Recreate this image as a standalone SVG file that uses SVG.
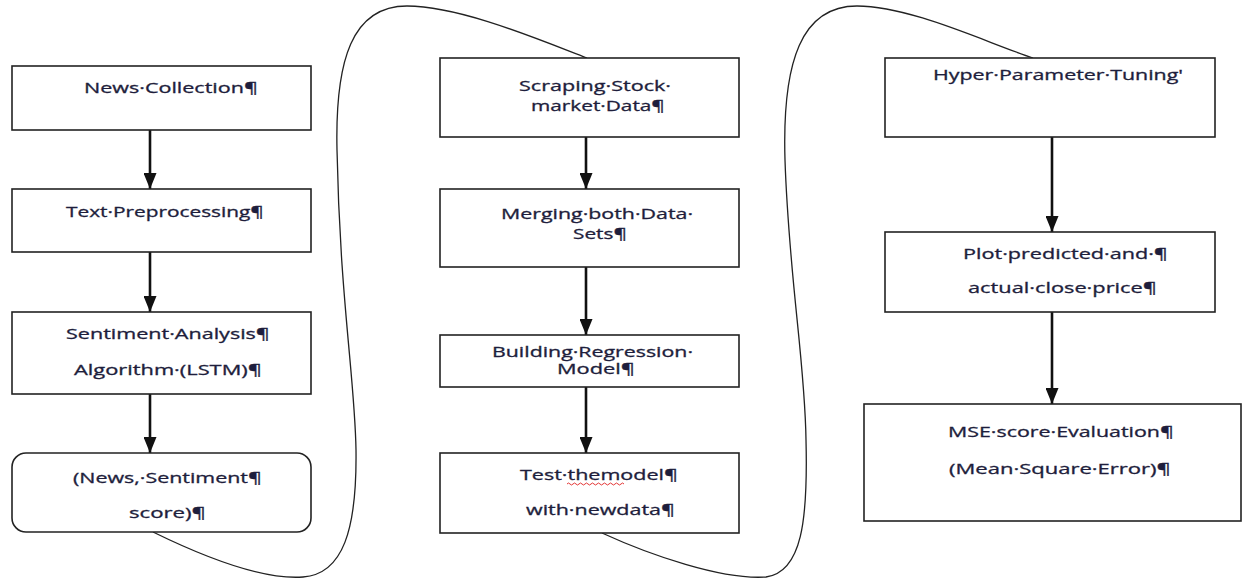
<svg xmlns="http://www.w3.org/2000/svg" width="1242" height="580" viewBox="0 0 1242 580">
<style>
.box{fill:#fff;stroke:#222;stroke-width:1.6}
.t{font-family:"Open Sans","Liberation Sans",sans-serif;font-size:14.5px;fill:#1e1e3c;stroke:#1e1e3c;stroke-width:0.3}
.arr{stroke:#111;stroke-width:2.6;fill:none}
.curve{stroke:#222;stroke-width:1.3;fill:none}
</style>
<defs>
<marker id="tri" markerUnits="userSpaceOnUse" markerWidth="16" markerHeight="13" refX="16" refY="6.5" orient="auto" viewBox="0 0 16 13">
<path d="M0,0 L16,6.5 L0,13 Z" fill="#111"/>
</marker>
</defs>
<rect width="1242" height="580" fill="#fff"/>

<g id="connectors">
<path class="arr" d="M150,130 L150,189" marker-end="url(#tri)"/>
<path class="arr" d="M150,252 L150,312" marker-end="url(#tri)"/>
<path class="arr" d="M150,394 L150,453" marker-end="url(#tri)"/>
<path class="arr" d="M586,137 L586,189" marker-end="url(#tri)"/>
<path class="arr" d="M586,267 L586,335" marker-end="url(#tri)"/>
<path class="arr" d="M586,387 L586,453" marker-end="url(#tri)"/>
<path class="arr" d="M1052,137 L1052,232" marker-end="url(#tri)"/>
<path class="arr" d="M1052,312 L1052,404" marker-end="url(#tri)"/>
<path class="curve" d="M153,532 C200,555 262,580 303,577 C343,574 357,530 356,450 C355,380 340,300 337,150 C335,60 352,6 407,6 C460,6 540,40 587,58"/>
<path class="curve" d="M602,533 C650,555 722,580 766,577 C802,572 808,520 806,440 C805,360 789,280 785,160 C782,60 802,6 857,6 C910,6 985,42 1033,58"/>
</g>

<g id="n1"><rect class="box" x="12" y="66" width="299" height="64"/>
<text class="t" x="84" y="93" textLength="174" lengthAdjust="spacingAndGlyphs">News·Collection¶</text></g>
<g id="n2"><rect class="box" x="12" y="189" width="299" height="63"/>
<text class="t" x="66" y="217" textLength="198" lengthAdjust="spacingAndGlyphs">Text·Preprocessing¶</text></g>
<g id="n3"><rect class="box" x="12" y="312" width="299" height="82"/>
<text class="t" x="66" y="339" textLength="204" lengthAdjust="spacingAndGlyphs">Sentiment·Analysis¶</text>
<text class="t" x="74" y="375" textLength="188" lengthAdjust="spacingAndGlyphs">Algorithm·(LSTM)¶</text></g>
<g id="n4"><rect class="box" x="12" y="453" width="299" height="79" rx="14"/>
<text class="t" x="73" y="483" textLength="189" lengthAdjust="spacingAndGlyphs">(News,·Sentiment¶</text>
<text class="t" x="129" y="518" textLength="77" lengthAdjust="spacingAndGlyphs">score)¶</text></g>

<g id="n5"><rect class="box" x="440" y="58" width="299" height="79"/>
<text class="t" x="519" y="91" textLength="152" lengthAdjust="spacingAndGlyphs">Scraping·Stock·</text>
<text class="t" x="531" y="111" textLength="134" lengthAdjust="spacingAndGlyphs">market·Data¶</text></g>
<g id="n6"><rect class="box" x="440" y="189" width="299" height="78"/>
<text class="t" x="501" y="219" textLength="192" lengthAdjust="spacingAndGlyphs">Merging·both·Data·</text>
<text class="t" x="573" y="239" textLength="54" lengthAdjust="spacingAndGlyphs">Sets¶</text></g>
<g id="n7"><rect class="box" x="440" y="335" width="299" height="52"/>
<text class="t" x="492" y="357" textLength="201" lengthAdjust="spacingAndGlyphs">Building·Regression·</text>
<text class="t" x="557" y="374" textLength="78" lengthAdjust="spacingAndGlyphs">Model¶</text></g>
<g id="n8"><rect class="box" x="440" y="453" width="299" height="80"/>
<text class="t" x="520" y="480" textLength="158" lengthAdjust="spacingAndGlyphs">Test·themodel¶</text>
<path d="M567,484 q1.5,-2 3,0 t3,0 t3,0 t3,0 t3,0 t3,0 t3,0 t3,0 t3,0 t3,0 t3,0 t3,0 t3,0 t3,0 t3,0 t3,0 t3,0 t3,0 t3,0" fill="none" stroke="#e02020" stroke-width="0.9"/>
<text class="t" x="526" y="515" textLength="149" lengthAdjust="spacingAndGlyphs">with·newdata¶</text></g>

<g id="n9"><rect class="box" x="885" y="58" width="330" height="79"/>
<text class="t" x="933" y="80" textLength="250" lengthAdjust="spacingAndGlyphs">Hyper·Parameter·Tuning'</text></g>
<g id="n10"><rect class="box" x="885" y="232" width="330" height="80"/>
<text class="t" x="963" y="259" textLength="205" lengthAdjust="spacingAndGlyphs">Plot·predicted·and·¶</text>
<text class="t" x="968" y="293" textLength="189" lengthAdjust="spacingAndGlyphs">actual·close·price¶</text></g>
<g id="n11"><rect class="box" x="864" y="404" width="377" height="117"/>
<text class="t" x="948" y="437" textLength="226" lengthAdjust="spacingAndGlyphs">MSE·score·Evaluation¶</text>
<text class="t" x="949" y="474" textLength="222" lengthAdjust="spacingAndGlyphs">(Mean·Square·Error)¶</text></g>
</svg>
